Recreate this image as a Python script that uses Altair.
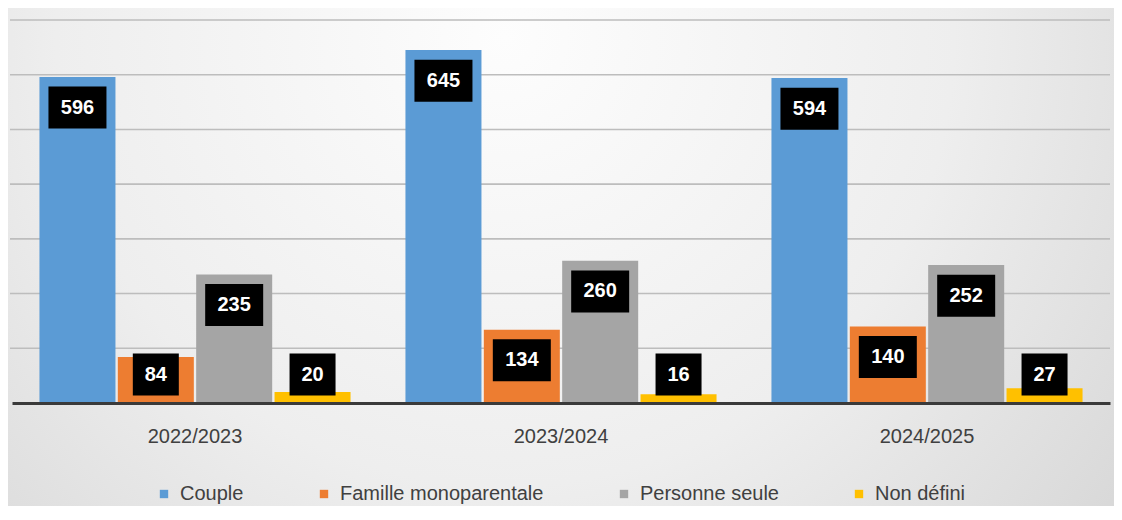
import altair as alt
import pandas as pd

years = ["2022/2023", "2023/2024", "2024/2025"]
series = ["Couple", "Famille monoparentale", "Personne seule", "Non défini"]
couple = [596, 645, 594]
famille = [84, 134, 140]
seule = [235, 260, 252]
nondef = [20, 16, 27]
colors = ["#5b9bd5", "#ed7d31", "#a5a5a5", "#ffc000"]
y_ticks = [100, 200, 300, 400, 500, 600, 700]

rows = []
for s, vals in zip(series, [couple, famille, seule, nondef]):
    for yr, v in zip(years, vals):
        rows.append({"annee": yr, "type": s, "valeur": v})
df = pd.DataFrame(rows)
grid_df = pd.DataFrame({"tick": y_ticks})

W, H = 1098, 383

x_enc = alt.X("annee:N", sort=years, title=None,
              scale=alt.Scale(paddingInner=0.15, paddingOuter=0.075),
              axis=alt.Axis(labelAngle=0, labelFontSize=20, labelColor="#404040",
                            labelFont="Liberation Sans", labelPadding=23, ticks=False,
                            domainColor="#3a3a3a", domainWidth=3, grid=False, zindex=1))
xo_enc = alt.XOffset("type:N", sort=series, scale=alt.Scale(paddingInner=0.03))
y_scale = alt.Scale(domain=[0, 700], nice=False)

gradient = {
    "gradient": "radial",
    "stops": [
        {"offset": 0, "color": "#fdfdfd"},
        {"offset": 0.5, "color": "#eeeeee"},
        {"offset": 1, "color": "#d0d0d0"},
    ],
    "x1": 0.45, "y1": 0.3, "x2": 0.45, "y2": 0.3, "r1": 0, "r2": 0.8,
}

bg = alt.Chart(pd.DataFrame({"a": [0]})).mark_rect(fill=gradient).encode(
    x=alt.value(-12), x2=alt.value(W + 12), y=alt.value(-20), y2=alt.value(H + 120)
)

grid = alt.Chart(grid_df).mark_rule(color="#bdbdbd", strokeWidth=1.6).encode(
    y=alt.Y("tick:Q", scale=y_scale, axis=None),
    x=alt.value(-2), x2=alt.value(W),
)

bars = alt.Chart(df).mark_bar().encode(
    x=x_enc,
    xOffset=xo_enc,
    y=alt.Y("valeur:Q", scale=y_scale, title=None, axis=None),
    color=alt.Color("type:N", sort=series,
                    scale=alt.Scale(domain=series, range=colors),
                    legend=alt.Legend(title=None, orient="none", direction="horizontal",
                                      legendX=142, legendY=464, symbolType="square",
                                      symbolSize=70, labelFontSize=20, labelColor="#404040",
                                      labelFont="Liberation Sans", columnPadding=70,
                                      symbolOffset=0, labelOffset=6, labelLimit=400)),
)

base_lab = alt.Chart(df).transform_calculate(
    lab="max(datum.valeur - 56, 52)"
)

box3 = base_lab.transform_filter("datum.valeur >= 100").mark_point(
    shape="M-1,-0.724L1,-0.724L1,0.724L-1,0.724Z", filled=True, fill="#000000",
    opacity=1, size=58 * 58, strokeWidth=0
).encode(x=alt.X("annee:N", sort=years), xOffset=alt.XOffset("type:N", sort=series),
         y=alt.Y("lab:Q", scale=y_scale, axis=None))

box2 = base_lab.transform_filter("datum.valeur < 100").mark_point(
    shape="M-1,-0.913L1,-0.913L1,0.913L-1,0.913Z", filled=True, fill="#000000",
    opacity=1, size=46 * 46, strokeWidth=0
).encode(x=alt.X("annee:N", sort=years), xOffset=alt.XOffset("type:N", sort=series),
         y=alt.Y("lab:Q", scale=y_scale, axis=None))

txt = base_lab.mark_text(color="white", fontWeight="bold", fontSize=20,
                         font="Liberation Sans", align="center", baseline="middle").encode(
    x=alt.X("annee:N", sort=years), xOffset=alt.XOffset("type:N", sort=series),
    y=alt.Y("lab:Q", scale=y_scale, axis=None), text="valeur:Q")

chart = alt.layer(bg, grid, bars, box3, box2, txt).properties(
    width=W, height=H,
    autosize=alt.AutoSizeParams(type="none"),
    padding={"left": 4, "top": 12, "right": 4, "bottom": 103},
).configure(background="#e2e2e2").configure_view(stroke=None)

chart.save("out.html", embed_options={"renderer": "svg", "actions": False})
